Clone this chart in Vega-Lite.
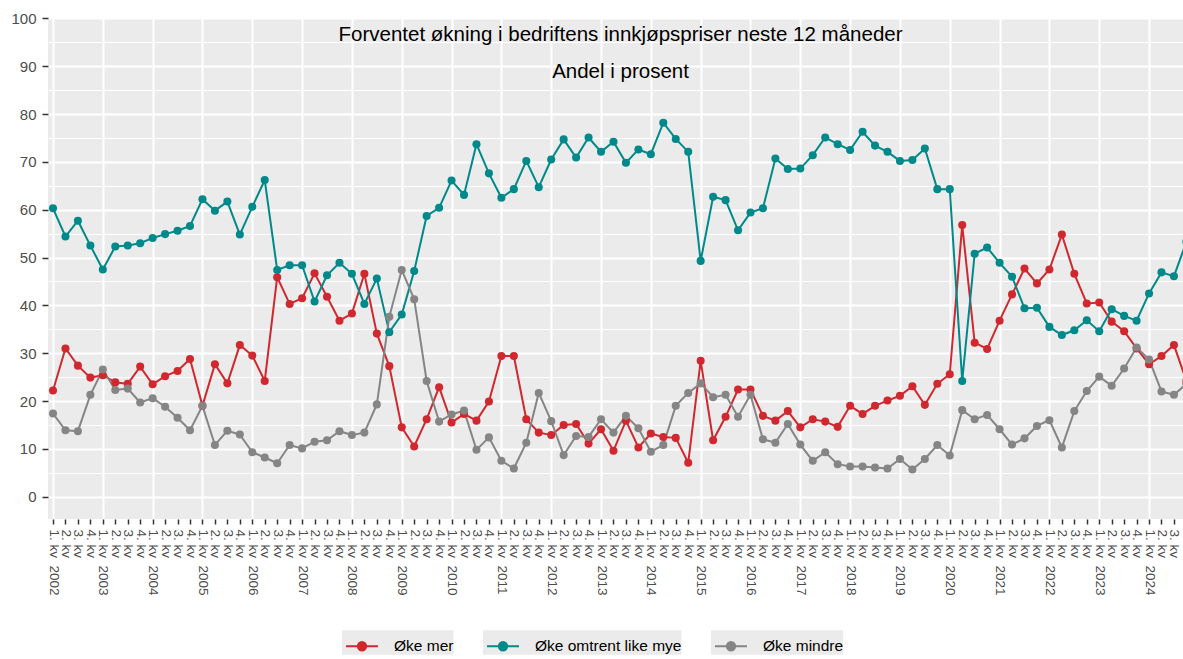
{
  "$schema": "https://vega.github.io/schema/vega-lite/v6.json",
  "width": 1135,
  "height": 501,
  "autosize": {"type": "none"},
  "padding": {"left": 48, "top": 18, "right": 0, "bottom": 140},
  "background": "white",
  "title": {
    "text": "Forventet økning i bedriftens innkjøpspriser neste 12 måneder",
    "subtitle": "Andel i prosent",
    "anchor": "middle",
    "frame": "group",
    "offset": -71,
    "dx": 5,
    "font": "Liberation Sans",
    "fontSize": 20.5,
    "fontWeight": "normal",
    "color": "black",
    "subtitleFont": "Liberation Sans",
    "subtitleFontSize": 20.5,
    "subtitleColor": "black",
    "subtitlePadding": 16.5
  },
  "config": {
    "view": {"fill": "#EBEBEB", "stroke": null},
    "axis": {
      "domain": false,
      "labelFont": "Liberation Sans",
      "labelColor": "#4D4D4D",
      "tickColor": "#333333",
      "gridColor": "#FFFFFF",
      "title": null
    }
  },
  "data": {
    "values": [
      {"tid": 2002.00, "Øke mer": 22.2, "Øke omtrent like mye": 60.3, "Øke mindre": 17.4},
      {"tid": 2002.25, "Øke mer": 31.0, "Øke omtrent like mye": 54.4, "Øke mindre": 13.9},
      {"tid": 2002.50, "Øke mer": 27.4, "Øke omtrent like mye": 57.7, "Øke mindre": 13.7},
      {"tid": 2002.75, "Øke mer": 24.9, "Øke omtrent like mye": 52.5, "Øke mindre": 21.3},
      {"tid": 2003.00, "Øke mer": 25.4, "Øke omtrent like mye": 47.5, "Øke mindre": 26.6},
      {"tid": 2003.25, "Øke mer": 23.9, "Øke omtrent like mye": 52.3, "Øke mindre": 22.3},
      {"tid": 2003.50, "Øke mer": 23.6, "Øke omtrent like mye": 52.5, "Øke mindre": 22.6},
      {"tid": 2003.75, "Øke mer": 27.2, "Øke omtrent like mye": 53.0, "Øke mindre": 19.7},
      {"tid": 2004.00, "Øke mer": 23.5, "Øke omtrent like mye": 54.1, "Øke mindre": 20.6},
      {"tid": 2004.25, "Øke mer": 25.2, "Øke omtrent like mye": 54.9, "Øke mindre": 18.8},
      {"tid": 2004.50, "Øke mer": 26.3, "Øke omtrent like mye": 55.6, "Øke mindre": 16.5},
      {"tid": 2004.75, "Øke mer": 28.8, "Øke omtrent like mye": 56.6, "Øke mindre": 13.9},
      {"tid": 2005.00, "Øke mer": 19.0, "Øke omtrent like mye": 62.2, "Øke mindre": 19.0},
      {"tid": 2005.25, "Øke mer": 27.7, "Øke omtrent like mye": 59.8, "Øke mindre": 10.8},
      {"tid": 2005.50, "Øke mer": 23.7, "Øke omtrent like mye": 61.7, "Øke mindre": 13.8},
      {"tid": 2005.75, "Øke mer": 31.7, "Øke omtrent like mye": 54.8, "Øke mindre": 13.0},
      {"tid": 2006.00, "Øke mer": 29.5, "Øke omtrent like mye": 60.6, "Øke mindre": 9.3},
      {"tid": 2006.25, "Øke mer": 24.2, "Øke omtrent like mye": 66.2, "Øke mindre": 8.2},
      {"tid": 2006.50, "Øke mer": 45.9, "Øke omtrent like mye": 47.4, "Øke mindre": 7.0},
      {"tid": 2006.75, "Øke mer": 40.3, "Øke omtrent like mye": 48.4, "Øke mindre": 10.8},
      {"tid": 2007.00, "Øke mer": 41.5, "Øke omtrent like mye": 48.4, "Øke mindre": 10.1},
      {"tid": 2007.25, "Øke mer": 46.7, "Øke omtrent like mye": 40.8, "Øke mindre": 11.5},
      {"tid": 2007.50, "Øke mer": 41.8, "Øke omtrent like mye": 46.3, "Øke mindre": 11.8},
      {"tid": 2007.75, "Øke mer": 36.8, "Øke omtrent like mye": 48.9, "Øke mindre": 13.7},
      {"tid": 2008.00, "Øke mer": 38.3, "Øke omtrent like mye": 46.6, "Øke mindre": 12.9},
      {"tid": 2008.25, "Øke mer": 46.6, "Øke omtrent like mye": 40.3, "Øke mindre": 13.4},
      {"tid": 2008.50, "Øke mer": 34.1, "Øke omtrent like mye": 45.6, "Øke mindre": 19.3},
      {"tid": 2008.75, "Øke mer": 27.3, "Øke omtrent like mye": 34.4, "Øke mindre": 37.6},
      {"tid": 2009.00, "Øke mer": 14.5, "Øke omtrent like mye": 38.1, "Øke mindre": 47.4},
      {"tid": 2009.25, "Øke mer": 10.5, "Øke omtrent like mye": 47.2, "Øke mindre": 41.3},
      {"tid": 2009.50, "Øke mer": 16.2, "Øke omtrent like mye": 58.7, "Øke mindre": 24.2},
      {"tid": 2009.75, "Øke mer": 22.9, "Øke omtrent like mye": 60.4, "Øke mindre": 15.7},
      {"tid": 2010.00, "Øke mer": 15.5, "Øke omtrent like mye": 66.1, "Øke mindre": 17.2},
      {"tid": 2010.25, "Øke mer": 17.3, "Øke omtrent like mye": 63.1, "Øke mindre": 18.0},
      {"tid": 2010.50, "Øke mer": 15.9, "Øke omtrent like mye": 73.7, "Øke mindre": 9.8},
      {"tid": 2010.75, "Øke mer": 19.9, "Øke omtrent like mye": 67.6, "Øke mindre": 12.4},
      {"tid": 2011.00, "Øke mer": 29.4, "Øke omtrent like mye": 62.5, "Øke mindre": 7.5},
      {"tid": 2011.25, "Øke mer": 29.4, "Øke omtrent like mye": 64.3, "Øke mindre": 5.9},
      {"tid": 2011.50, "Øke mer": 16.2, "Øke omtrent like mye": 70.2, "Øke mindre": 11.3},
      {"tid": 2011.75, "Øke mer": 13.4, "Øke omtrent like mye": 64.7, "Øke mindre": 21.7},
      {"tid": 2012.00, "Øke mer": 12.9, "Øke omtrent like mye": 70.5, "Øke mindre": 15.8},
      {"tid": 2012.25, "Øke mer": 15.0, "Øke omtrent like mye": 74.7, "Øke mindre": 8.7},
      {"tid": 2012.50, "Øke mer": 15.2, "Øke omtrent like mye": 70.9, "Øke mindre": 12.7},
      {"tid": 2012.75, "Øke mer": 11.1, "Øke omtrent like mye": 75.1, "Øke mindre": 12.5},
      {"tid": 2013.00, "Øke mer": 14.1, "Øke omtrent like mye": 72.1, "Øke mindre": 16.2},
      {"tid": 2013.25, "Øke mer": 9.6, "Øke omtrent like mye": 74.2, "Øke mindre": 13.4},
      {"tid": 2013.50, "Øke mer": 15.9, "Øke omtrent like mye": 69.8, "Øke mindre": 16.9},
      {"tid": 2013.75, "Øke mer": 10.3, "Øke omtrent like mye": 72.6, "Øke mindre": 14.3},
      {"tid": 2014.00, "Øke mer": 13.2, "Øke omtrent like mye": 71.6, "Øke mindre": 9.4},
      {"tid": 2014.25, "Øke mer": 12.5, "Øke omtrent like mye": 78.2, "Øke mindre": 10.8},
      {"tid": 2014.50, "Øke mer": 12.3, "Øke omtrent like mye": 74.8, "Øke mindre": 19.0},
      {"tid": 2014.75, "Øke mer": 7.1, "Øke omtrent like mye": 72.1, "Øke mindre": 21.7},
      {"tid": 2015.00, "Øke mer": 28.4, "Øke omtrent like mye": 49.3, "Øke mindre": 23.7},
      {"tid": 2015.25, "Øke mer": 11.8, "Øke omtrent like mye": 62.7, "Øke mindre": 20.8},
      {"tid": 2015.50, "Øke mer": 16.7, "Øke omtrent like mye": 62.0, "Øke mindre": 21.3},
      {"tid": 2015.75, "Øke mer": 22.4, "Øke omtrent like mye": 55.7, "Øke mindre": 16.7},
      {"tid": 2016.00, "Øke mer": 22.4, "Øke omtrent like mye": 59.4, "Øke mindre": 21.3},
      {"tid": 2016.25, "Øke mer": 16.9, "Øke omtrent like mye": 60.3, "Øke mindre": 12.0},
      {"tid": 2016.50, "Øke mer": 15.9, "Øke omtrent like mye": 70.7, "Øke mindre": 11.3},
      {"tid": 2016.75, "Øke mer": 17.9, "Øke omtrent like mye": 68.5, "Øke mindre": 15.2},
      {"tid": 2017.00, "Øke mer": 14.5, "Øke omtrent like mye": 68.6, "Øke mindre": 10.9},
      {"tid": 2017.25, "Øke mer": 16.2, "Øke omtrent like mye": 71.4, "Øke mindre": 7.5},
      {"tid": 2017.50, "Øke mer": 15.7, "Øke omtrent like mye": 75.1, "Øke mindre": 9.3},
      {"tid": 2017.75, "Øke mer": 14.6, "Øke omtrent like mye": 73.7, "Øke mindre": 6.8},
      {"tid": 2018.00, "Øke mer": 19.0, "Øke omtrent like mye": 72.5, "Øke mindre": 6.3},
      {"tid": 2018.25, "Øke mer": 17.3, "Øke omtrent like mye": 76.3, "Øke mindre": 6.3},
      {"tid": 2018.50, "Øke mer": 19.0, "Øke omtrent like mye": 73.4, "Øke mindre": 6.1},
      {"tid": 2018.75, "Øke mer": 20.1, "Øke omtrent like mye": 72.1, "Øke mindre": 5.9},
      {"tid": 2019.00, "Øke mer": 21.1, "Øke omtrent like mye": 70.2, "Øke mindre": 7.9},
      {"tid": 2019.25, "Øke mer": 23.1, "Øke omtrent like mye": 70.4, "Øke mindre": 5.7},
      {"tid": 2019.50, "Øke mer": 19.2, "Øke omtrent like mye": 72.8, "Øke mindre": 7.9},
      {"tid": 2019.75, "Øke mer": 23.6, "Øke omtrent like mye": 64.3, "Øke mindre": 10.8},
      {"tid": 2020.00, "Øke mer": 25.6, "Øke omtrent like mye": 64.3, "Øke mindre": 8.6},
      {"tid": 2020.25, "Øke mer": 56.8, "Øke omtrent like mye": 24.2, "Øke mindre": 18.1},
      {"tid": 2020.50, "Øke mer": 32.2, "Øke omtrent like mye": 50.8, "Øke mindre": 16.2},
      {"tid": 2020.75, "Øke mer": 30.9, "Øke omtrent like mye": 52.1, "Øke mindre": 17.1},
      {"tid": 2021.00, "Øke mer": 36.8, "Øke omtrent like mye": 48.9, "Øke mindre": 14.1},
      {"tid": 2021.25, "Øke mer": 42.3, "Øke omtrent like mye": 46.0, "Øke mindre": 10.9},
      {"tid": 2021.50, "Øke mer": 47.7, "Øke omtrent like mye": 39.4, "Øke mindre": 12.2},
      {"tid": 2021.75, "Øke mer": 44.6, "Øke omtrent like mye": 39.5, "Øke mindre": 14.8},
      {"tid": 2022.00, "Øke mer": 47.5, "Øke omtrent like mye": 35.5, "Øke mindre": 16.0},
      {"tid": 2022.25, "Øke mer": 54.8, "Øke omtrent like mye": 33.8, "Øke mindre": 10.3},
      {"tid": 2022.50, "Øke mer": 46.6, "Øke omtrent like mye": 34.8, "Øke mindre": 17.9},
      {"tid": 2022.75, "Øke mer": 40.4, "Øke omtrent like mye": 36.9, "Øke mindre": 22.1},
      {"tid": 2023.00, "Øke mer": 40.6, "Øke omtrent like mye": 34.6, "Øke mindre": 25.1},
      {"tid": 2023.25, "Øke mer": 36.6, "Øke omtrent like mye": 39.2, "Øke mindre": 23.2},
      {"tid": 2023.50, "Øke mer": 34.6, "Øke omtrent like mye": 37.8, "Øke mindre": 26.8},
      {"tid": 2023.75, "Øke mer": 31.0, "Øke omtrent like mye": 36.8, "Øke mindre": 31.2},
      {"tid": 2024.00, "Øke mer": 27.7, "Øke omtrent like mye": 42.5, "Øke mindre": 28.7},
      {"tid": 2024.25, "Øke mer": 29.4, "Øke omtrent like mye": 46.9, "Øke mindre": 22.0},
      {"tid": 2024.50, "Øke mer": 31.7, "Øke omtrent like mye": 46.1, "Øke mindre": 21.3},
      {"tid": 2024.75, "Øke mer": 24.2, "Øke omtrent like mye": 53.3, "Øke mindre": 23.6}
    ]
  },
  "transform": [
    {"fold": ["Øke mer", "Øke omtrent like mye", "Øke mindre"], "as": ["serie", "verdi"]}
  ],
  "encoding": {
    "x": {
      "field": "tid",
      "type": "quantitative",
      "scale": {"domain": [2001.8996, 2024.6816], "nice": false, "zero": false},
      "axis": {
        "values": [2002,2002.25,2002.5,2002.75,2003,2003.25,2003.5,2003.75,2004,2004.25,2004.5,2004.75,2005,2005.25,2005.5,2005.75,2006,2006.25,2006.5,2006.75,2007,2007.25,2007.5,2007.75,2008,2008.25,2008.5,2008.75,2009,2009.25,2009.5,2009.75,2010,2010.25,2010.5,2010.75,2011,2011.25,2011.5,2011.75,2012,2012.25,2012.5,2012.75,2013,2013.25,2013.5,2013.75,2014,2014.25,2014.5,2014.75,2015,2015.25,2015.5,2015.75,2016,2016.25,2016.5,2016.75,2017,2017.25,2017.5,2017.75,2018,2018.25,2018.5,2018.75,2019,2019.25,2019.5,2019.75,2020,2020.25,2020.5,2020.75,2021,2021.25,2021.5,2021.75,2022,2022.25,2022.5,2022.75,2023,2023.25,2023.5,2023.75,2024,2024.25,2024.5,2024.75],
        "labelExpr": "datum.value === floor(datum.value) ? '1. kv \u00a0' + datum.value : (round((datum.value - floor(datum.value)) * 4) + 1) + '. kv'",
        "labelAngle": 90,
        "labelAlign": "left",
        "labelBaseline": "middle",
        "labelFontSize": 13.5,
        "labelPadding": 5,
        "labelOverlap": false,
        "labelBound": false,
        "labelFlush": false,
        "tickSize": 5,
        "tickWidth": 1.5,
        "grid": true,
        "gridWidth": 2,
        "gridOpacity": {"condition": {"test": "datum.value === floor(datum.value)", "value": 1}, "value": 0}
      }
    },
    "y": {
      "field": "verdi",
      "type": "quantitative",
      "scale": {"domain": [-4.66, 100.08], "nice": false, "zero": false},
      "axis": {
        "values": [0,5,10,15,20,25,30,35,40,45,50,55,60,65,70,75,80,85,90,95,100],
        "labelExpr": "datum.value % 10 === 0 ? datum.label : ''",
        "labelFontSize": 15,
        "labelPadding": 6,
        "labelOverlap": false,
        "labelFlush": false,
        "tickSize": 6,
        "tickWidth": 1.5,
        "tickOpacity": {"condition": {"test": "datum.value % 10 === 0", "value": 1}, "value": 0},
        "grid": true,
        "gridWidth": {"condition": {"test": "datum.value % 10 === 0", "value": 2}, "value": 1}
      }
    },
    "color": {
      "field": "serie",
      "type": "nominal",
      "scale": {
        "domain": ["Øke mer", "Øke omtrent like mye", "Øke mindre"],
        "range": ["#D0282E", "#00898A", "#858585"]
      },
      "legend": {
        "title": null,
        "orient": "none",
        "legendX": 294,
        "legendY": 612,
        "direction": "horizontal",
        "padding": 0,
        "symbolType": "M-1.0667,0H1.0667M0.277,0A0.277,0.277 0 1 1 -0.277,0A0.277,0.277 0 1 1 0.277,0Z",
        "symbolSize": 900,
        "symbolOffset": 4,
        "symbolStrokeWidth": 2,
        "labelFont": "Liberation Sans",
        "labelFontSize": 15.5,
        "labelColor": "#000000",
        "labelOffset": 16,
        "columnPadding": 28,
        "encode": {
          "entries": {"update": {"fill": {"value": "#EBEBEB"}, "width": {"value": 38}, "height": {"value": 30}}},
          "symbols": {"update": {"opacity": {"value": 1}, "strokeWidth": {"value": 2}}}
        }
      }
    }
  },
  "layer": [
    {"mark": {"type": "line", "strokeWidth": 2, "clip": true}},
    {"mark": {"type": "point", "filled": true, "opacity": 1, "size": 65, "clip": true}}
  ]
}
